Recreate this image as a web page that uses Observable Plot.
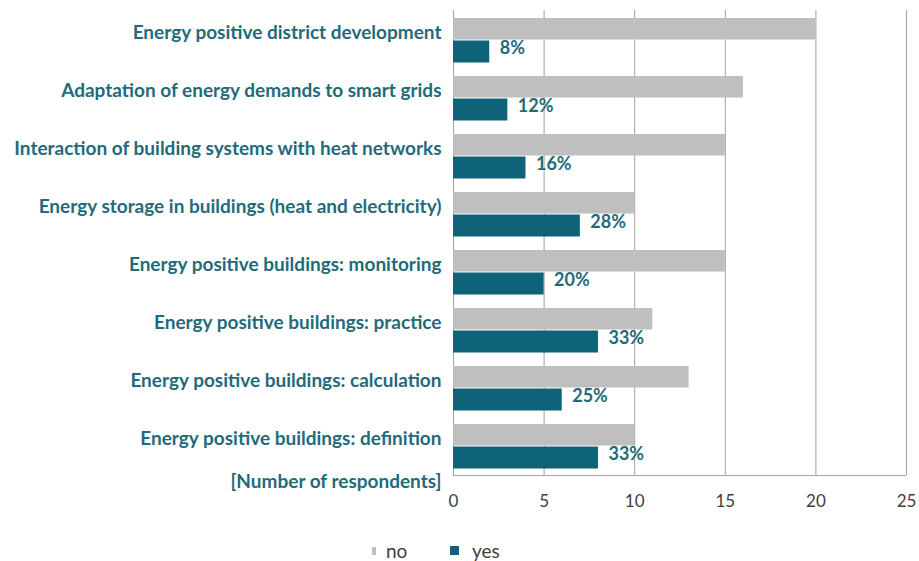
<!DOCTYPE html>
<html>
<head>
<meta charset="utf-8">
<script src="https://cdn.jsdelivr.net/npm/d3@7"></script>
<script src="https://cdn.jsdelivr.net/npm/@observablehq/plot@0.6"></script>
<style>
  body { margin: 0; background: #fff; font-family: Lato, "Open Sans", sans-serif; }
  #legend { position: relative; height: 36px; font-size: 19px; color: #404040; }
  .item { position: absolute; top: 14px; display: flex; align-items: center; }
  .sw { display: inline-block; }
</style>
</head>
<body>
<div id="chart"></div>
<div id="legend"></div>
<script>
const categories = [
  "Energy positive district development",
  "Adaptation of energy demands to smart grids",
  "Interaction of building systems with heat networks",
  "Energy storage in buildings (heat and electricity)",
  "Energy positive buildings: monitoring",
  "Energy positive buildings: practice",
  "Energy positive buildings: calculation",
  "Energy positive buildings: definition"
];
const noValues = [20, 16, 15, 10, 15, 11, 13, 10];
const yesValues = [2, 3, 4, 7, 5, 8, 6, 8];
const yesLabels = ["8%", "12%", "16%", "28%", "20%", "33%", "25%", "33%"];
const xTicks = [0, 5, 10, 15, 20, 25];
const seriesNames = ["no", "yes"];
const yTitle = "[Number of respondents]";

const colorNo = "#bfbfbf";
const colorYes = "#0f6378";
const textTeal = "#1f6b7a";
const gridColor = "#a0a0a0";

const W = 919, H = 525, mT = 10, mB = 50;
const bandH = (H - mT - mB) / categories.length;

const rows = categories.map((c, i) => ({category: c, no: noValues[i], yes: yesValues[i], label: yesLabels[i]}));

const plot = Plot.plot({
  width: W,
  height: H,
  marginLeft: 453,
  marginRight: 13,
  marginTop: mT,
  marginBottom: mB,
  style: {fontFamily: "Lato, 'Open Sans', sans-serif", background: "#fff"},
  x: {domain: [0, 25], axis: null},
  y: {domain: categories, padding: 0, axis: null},
  marks: [
    Plot.ruleX(xTicks, {stroke: gridColor, strokeWidth: 1}),
    Plot.ruleY(categories.slice(-1), {y: d => d, dy: bandH / 2, x1: 0, x2: 25, stroke: gridColor, strokeWidth: 1}),
    Plot.barX(rows, {y: "category", x: "no", fill: colorNo, insetTop: 7, insetBottom: 29.5}),
    Plot.barX(rows, {y: "category", x: "yes", fill: colorYes, insetTop: 29.5, insetBottom: 6.5}),
    Plot.text(rows, {y: "category", x: "yes", text: "label", dx: 10, dy: 8, textAnchor: "start",
      fill: textTeal, fontWeight: "bold", fontSize: 18}),
    Plot.text(categories, {y: d => d, frameAnchor: "left", textAnchor: "end", dx: -12, dy: -8,
      fill: textTeal, fontWeight: "bold", fontSize: 19}),
    Plot.text([yTitle], {frameAnchor: "bottom-left", textAnchor: "end", dx: -12, dy: 12,
      fill: textTeal, fontWeight: "bold", fontSize: 19}),
    Plot.axisX(xTicks, {tickSize: 0, tickPadding: 19, fontSize: 17, fill: "#404040", label: null, tickFormat: d => String(d)})
  ]
});
document.getElementById("chart").appendChild(plot);

const legend = document.getElementById("legend");
const legendSpec = [
  {name: seriesNames[0], color: colorNo, w: 4, h: 8, left: 372, gap: 10},
  {name: seriesNames[1], color: colorYes, w: 9, h: 9, left: 450, gap: 13}
];
legendSpec.forEach(s => {
  const item = document.createElement("div");
  item.className = "item";
  item.style.left = s.left + "px";
  const sw = document.createElement("span");
  sw.className = "sw";
  sw.style.width = s.w + "px";
  sw.style.height = s.h + "px";
  sw.style.background = s.color;
  sw.style.marginRight = s.gap + "px";
  item.appendChild(sw);
  const t = document.createElement("span");
  t.textContent = s.name;
  item.appendChild(t);
  legend.appendChild(item);
});
</script>
</body>
</html>
